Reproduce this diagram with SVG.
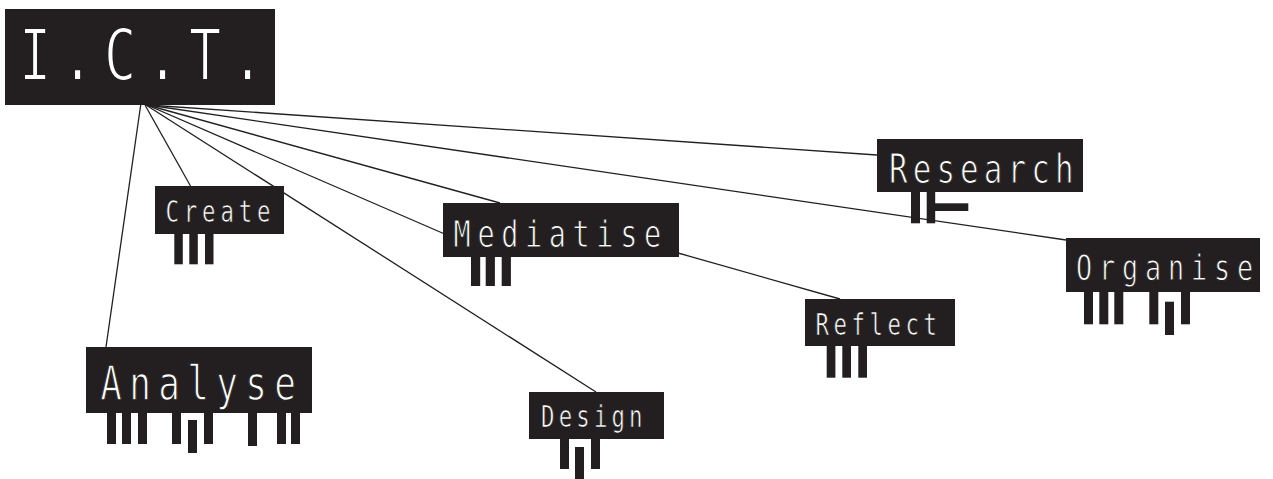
<svg xmlns="http://www.w3.org/2000/svg" width="1273" height="479" viewBox="0 0 1273 479">
  <style>
    .box { fill: #231f20; }
    .bar { fill: #231f20; }
    /* thin dark outline over the glyphs gives the light, narrow lettering */
    .label { fill: #ffffff; stroke: #231f20; stroke-width: 0.7; font-family: "DejaVu Sans Mono", "Liberation Mono", monospace; }
    .link { stroke: #231f20; stroke-width: 1.3; fill: none; }
  </style>
  <rect width="1273" height="479" fill="#ffffff"/>

  <!-- connectors -->
  <g id="connectors">
    <line class="link" x1="140.7" y1="105" x2="106" y2="347"/>
    <line class="link" x1="145" y1="105" x2="190.5" y2="186"/>
    <line class="link" x1="146" y1="105" x2="596" y2="392"/>
    <line class="link" x1="147" y1="105" x2="443.5" y2="233.5"/>
    <line class="link" x1="147" y1="105" x2="500" y2="203"/>
    <line class="link" x1="148" y1="105" x2="877" y2="155"/>
    <line class="link" x1="148" y1="105" x2="1066" y2="240"/>
    <line class="link" x1="678" y1="253" x2="840" y2="299"/>
  </g>

  <!-- root node -->
  <g id="node-ict">
    <rect class="box" x="5" y="9" width="270" height="96"/>
    <text class="label" font-size="71.3" letter-spacing="13.75" style="stroke-width:2" transform="translate(18.9 80) scale(0.75 1)">I.C.T.</text>
  </g>

  <g id="node-analyse">
    <rect class="box" x="86" y="347" width="226" height="66"/>
    <text class="label" font-size="48" letter-spacing="9.77" style="stroke-width:1.3" transform="translate(100.2 400) scale(0.75 1)">Analyse</text>
    <rect class="bar" x="107" y="413" width="9" height="31"/>
    <rect class="bar" x="122" y="413" width="9" height="31"/>
    <rect class="bar" x="138" y="413" width="9" height="31"/>
    <rect class="bar" x="172" y="413" width="9" height="31"/>
    <rect class="bar" x="188" y="420" width="9" height="33"/>
    <rect class="bar" x="204" y="413" width="9" height="31"/>
    <rect class="bar" x="248" y="413" width="9" height="33"/>
    <rect class="bar" x="277" y="413" width="9" height="31"/>
    <rect class="bar" x="291" y="413" width="9" height="31"/>
  </g>

  <g id="node-create">
    <rect class="box" x="155" y="186" width="129" height="48"/>
    <text class="label" font-size="29.8" letter-spacing="6.46" transform="translate(165.5 221.7) scale(0.75 1)">Create</text>
    <rect class="bar" x="174.3" y="234" width="8.5" height="30.3"/>
    <rect class="bar" x="189.3" y="234" width="8.5" height="30.3"/>
    <rect class="bar" x="205" y="234" width="8.5" height="30.3"/>
  </g>

  <g id="node-mediatise">
    <rect class="box" x="443" y="203" width="236" height="54"/>
    <text class="label" font-size="38" letter-spacing="8.85" style="stroke-width:1" transform="translate(453.6 246.7) scale(0.75 1)">Mediatise</text>
    <rect class="bar" x="471" y="257" width="9.2" height="29"/>
    <rect class="bar" x="485.7" y="257" width="9.2" height="29"/>
    <rect class="bar" x="501.7" y="257" width="9.2" height="29"/>
  </g>

  <g id="node-design">
    <rect class="box" x="529" y="392" width="135" height="47"/>
    <text class="label" font-size="29.8" letter-spacing="5.53" transform="translate(541.1 426.7) scale(0.75 1)">Design</text>
    <rect class="bar" x="560" y="439" width="9" height="30"/>
    <rect class="bar" x="575" y="447" width="9" height="32"/>
    <rect class="bar" x="591" y="439" width="9" height="30"/>
  </g>

  <g id="node-reflect">
    <rect class="box" x="805" y="299" width="150" height="47"/>
    <text class="label" font-size="29.8" letter-spacing="6.06" transform="translate(815.5 335) scale(0.75 1)">Reflect</text>
    <rect class="bar" x="826.7" y="346" width="8.7" height="31.7"/>
    <rect class="bar" x="842.3" y="346" width="8.7" height="31.7"/>
    <rect class="bar" x="858.3" y="346" width="8.7" height="31.7"/>
  </g>

  <g id="node-research">
    <rect class="box" x="877" y="139" width="206" height="53"/>
    <text class="label" font-size="41.2" letter-spacing="6.8" style="stroke-width:1.1" transform="translate(889 183.3) scale(0.75 1)">Research</text>
    <rect class="bar" x="911" y="192" width="9" height="31.3"/>
    <rect class="bar" x="926.7" y="192" width="8.5" height="31.3"/>
    <rect class="bar" x="935" y="203.3" width="33.3" height="7.7"/>
  </g>

  <g id="node-organise">
    <rect class="box" x="1066" y="238" width="194" height="54"/>
    <text class="label" font-size="35.7" letter-spacing="9.18" style="stroke-width:1" transform="translate(1076.1 280) scale(0.75 1)">Organise</text>
    <rect class="bar" x="1084" y="292" width="9" height="32.3"/>
    <rect class="bar" x="1099.3" y="292" width="9" height="32.3"/>
    <rect class="bar" x="1114.3" y="292" width="9" height="32.3"/>
    <rect class="bar" x="1149.3" y="292" width="9" height="32.3"/>
    <rect class="bar" x="1165" y="301.7" width="9" height="33.3"/>
    <rect class="bar" x="1181" y="292" width="9" height="32.3"/>
  </g>
</svg>
